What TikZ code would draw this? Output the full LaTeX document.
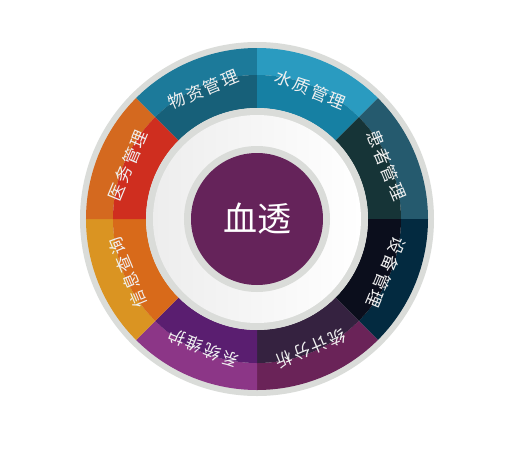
\documentclass[tikz,border=0pt]{standalone}
\usepackage{fontspec}
\newfontfamily\cjk{Noto Sans CJK SC}
\newfontfamily\cjkwide[LetterSpace=12]{Noto Sans CJK SC}
\usetikzlibrary{calc}
\definecolor{ringgrey}{HTML}{DADCD9}
\definecolor{corepurple}{HTML}{65235A}
\definecolor{wzout}{HTML}{1C7A9A}
\definecolor{wzin}{HTML}{176079}
\definecolor{szout}{HTML}{2A9BC0}
\definecolor{szin}{HTML}{1680A3}
\definecolor{hzout}{HTML}{255A6E}
\definecolor{hzin}{HTML}{163437}
\definecolor{sbout}{HTML}{032A40}
\definecolor{sbin}{HTML}{0B0E1C}
\definecolor{tjout}{HTML}{6A2358}
\definecolor{tjin}{HTML}{352240}
\definecolor{xtout}{HTML}{8C3687}
\definecolor{xtin}{HTML}{5A1E70}
\definecolor{xxout}{HTML}{DA9422}
\definecolor{xxin}{HTML}{D86A1A}
\definecolor{ywout}{HTML}{D4691F}
\definecolor{ywin}{HTML}{CF2E1F}

\begin{document}
\begin{tikzpicture}[x=1pt,y=1pt,
    lbl/.style={text=white!94!black,font=\cjkwide\fontsize{17}{17}\selectfont,inner sep=0pt},
    corelbl/.style={text=white,font=\cjk\fontsize{34}{34}\selectfont,inner sep=0pt}]
    \useasboundingbox (-257,-245) rectangle (251,219);
    \fill[white] (-257,-245) rectangle (251,219);
    \fill[ringgrey] (0,0) circle (177pt);
    % outer bands
    \fill[wzout] (90:171pt) arc (90:135:171pt) -- (135:144pt) arc (135:90:144pt) -- cycle;
    \fill[szout] (45:171pt) arc (45:90:171pt) -- (90:144pt) arc (90:45:144pt) -- cycle;
    \fill[hzout] (0:171pt) arc (0:45:171pt) -- (45:144pt) arc (45:0:144pt) -- cycle;
    \fill[sbout] (-45:171pt) arc (-45:0:171pt) -- (0:144pt) arc (0:-45:144pt) -- cycle;
    \fill[tjout] (-90:171pt) arc (-90:-45:171pt) -- (-45:144pt) arc (-45:-90:144pt) -- cycle;
    \fill[xtout] (-135:171pt) arc (-135:-90:171pt) -- (-90:144pt) arc (-90:-135:144pt) -- cycle;
    \fill[xxout] (180:171pt) arc (180:225:171pt) -- (225:144pt) arc (225:180:144pt) -- cycle;
    \fill[ywout] (135:171pt) arc (135:180:171pt) -- (180:144pt) arc (180:135:144pt) -- cycle;
    % inner bands
    \fill[wzin] (90:144pt) arc (90:135:144pt) -- (135:111pt) arc (135:90:111pt) -- cycle;
    \fill[szin] (45:144pt) arc (45:90:144pt) -- (90:111pt) arc (90:45:111pt) -- cycle;
    \fill[hzin] (0:144pt) arc (0:45:144pt) -- (45:111pt) arc (45:0:111pt) -- cycle;
    \fill[sbin] (-45:144pt) arc (-45:0:144pt) -- (0:111pt) arc (0:-45:111pt) -- cycle;
    \fill[tjin] (-90:144pt) arc (-90:-45:144pt) -- (-45:111pt) arc (-45:-90:111pt) -- cycle;
    \fill[xtin] (-135:144pt) arc (-135:-90:144pt) -- (-90:111pt) arc (-90:-135:111pt) -- cycle;
    \fill[xxin] (180:144pt) arc (180:225:144pt) -- (225:111pt) arc (225:180:111pt) -- cycle;
    \fill[ywin] (135:144pt) arc (135:180:144pt) -- (180:111pt) arc (180:135:111pt) -- cycle;
    % centre
    \fill[ringgrey] (0,0) circle (111pt);
    \shade[left color=black!7,middle color=white,right color=white] (0,0) circle (104pt);
    \fill[ringgrey] (0,0) circle (73pt);
    \fill[corepurple] (0,0) circle (66pt);
    \node[corelbl] (core) at (0,0) {血透};
    % labels
    \node[lbl,rotate=22.5] (wz) at (112.5:140pt) {物资管理};
    \node[lbl,rotate=-22.5] (sz) at (67.5:140pt) {水质管理};
    \node[lbl,rotate=-67.5] (hz) at (22.5:140pt) {患者管理};
    \node[lbl,rotate=-112.5] (sb) at (-22.5:140pt) {设备管理};
    \node[lbl,rotate=-157.5] (tj) at (-67.5:140pt) {统计分析};
    \node[lbl,rotate=157.5] (xt) at (-112.5:140pt) {系统维护};
    \node[lbl,rotate=112.5] (xx) at (-157.5:140pt) {信息查询};
    \node[lbl,rotate=67.5] (yw) at (157.5:140pt) {医务管理};
\end{tikzpicture}
\end{document}
